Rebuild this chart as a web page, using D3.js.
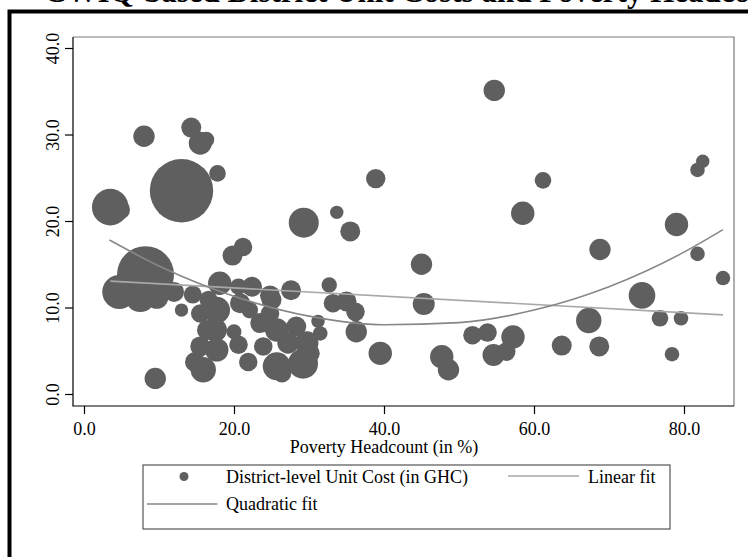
<!DOCTYPE html>
<html>
<head>
<meta charset="utf-8">
<script src="https://cdn.jsdelivr.net/npm/d3@7"></script>
<style>
  body { margin: 0; background: #fff; }
  svg { display: block; font-family: "Liberation Serif", "Times New Roman", serif; }
</style>
</head>
<body>
<svg id="chart"></svg>
<script>
// district points: poverty headcount (%), unit cost (GHC), weight
var poverty = [
  8.0, 14.3, 15.5, 16.3, 17.8, 13.0, 3.5, 4.8, 38.9, 29.3,
  33.7, 35.5, 8.2, 4.7, 7.5, 9.7, 12.0, 14.5, 16.6, 13.0,
  15.5, 17.7, 18.1, 19.8, 21.2, 20.6, 22.4, 16.4, 17.5, 20.0,
  20.6, 15.5, 17.7, 14.8, 15.9, 21.9, 9.5, 25.0, 36.2, 36.3,
  39.5, 32.7, 33.2, 35.0, 27.6, 45.0, 45.3, 25.7, 26.4, 29.2,
  30.1, 24.8, 20.8, 23.5, 25.7, 28.3, 31.2, 31.5, 29.7, 27.2,
  24.8, 22.1, 23.9, 54.7, 61.2, 58.5, 82.5, 81.8, 79.0, 68.8,
  81.8, 85.2, 74.4, 67.3, 76.8, 79.6, 78.4, 63.7, 68.7, 51.8,
  53.8, 57.2, 56.3, 54.6, 47.7, 48.6
];
var unitCost = [
  29.8, 30.8, 29.0, 29.4, 25.5, 23.5, 21.6, 21.3, 24.9, 19.8,
  21.0, 18.8, 13.8, 11.8, 11.2, 11.2, 11.8, 11.5, 10.9, 9.7,
  9.3, 9.7, 12.8, 16.0, 17.0, 12.4, 12.4, 7.4, 7.4, 7.2,
  5.7, 5.5, 5.1, 3.7, 2.8, 3.7, 1.8, 10.9, 9.5, 7.2,
  4.7, 12.6, 10.5, 10.7, 12.0, 15.0, 10.4, 3.2, 2.4, 3.5,
  4.7, 11.4, 10.5, 8.2, 7.4, 7.8, 8.4, 7.0, 5.9, 5.9,
  9.3, 9.7, 5.5, 35.1, 24.7, 20.9, 26.9, 25.9, 19.6, 16.7,
  16.2, 13.4, 11.4, 8.5, 8.75, 8.75, 4.6, 5.6, 5.5, 6.8,
  7.1, 6.6, 4.9, 4.5, 4.3, 2.8
];
var weight = [
  114, 100, 132, 64, 69, 1005, 335, 100, 94, 225,
  45, 100, 812, 289, 225, 137, 100, 81, 81, 45,
  86, 177, 137, 100, 86, 69, 100, 100, 137, 56,
  86, 100, 137, 100, 161, 86, 114, 100, 86, 114,
  137, 59, 86, 100, 100, 114, 121, 196, 86, 225,
  100, 100, 100, 100, 137, 100, 45, 53, 137, 114,
  86, 69, 86, 114, 69, 137, 45, 53, 137, 114,
  53, 53, 177, 161, 69, 53, 53, 100, 100, 86,
  86, 137, 86, 121, 137, 114
];

// fitted lines
var linearX = [3.5, 85.2];
var linearY = [13.05, 9.15];
var quadX = [3.4, 10, 20, 30, 40, 50, 60, 70, 80, 85.2];
var quadY = [17.8, 14.8, 11.3, 9.0, 8.0, 8.25, 9.7, 12.4, 16.4, 19.0];

var xTicks = [0, 20, 40, 60, 80];
var yTicks = [0, 10, 20, 30, 40];

var titleText = "CWIQ-based District Unit Costs and Poverty Headcount";
var xTitle = "Poverty Headcount (in %)";
var legendLabels = ["District-level Unit Cost (in GHC)", "Linear fit", "Quadratic fit"];

var width = 748, height = 557;
var box = {left: 73, right: 734, top: 37, bottom: 406};

var svg = d3.select('#chart')
  .attr('width', width)
  .attr('height', height);

svg.append('rect').attr('width', width).attr('height', height).attr('fill', '#fff');

// title, mostly cut off at the top edge
svg.append('text')
  .attr('x', 44)
  .attr('y', 2)
  .style('font-size', '31px')
  .style('font-weight', 'bold')
  .text(titleText);

// outer black frame (runs off right and bottom)
svg.append('rect')
  .attr('x', 9.5).attr('y', 11.5)
  .attr('width', width + 20).attr('height', height + 20)
  .attr('fill', 'none')
  .attr('stroke', '#000')
  .attr('stroke-width', 4);

var xScale = d3.scaleLinear().domain([0, 80]).range([84, 684]);
var yScale = d3.scaleLinear().domain([0, 40]).range([394, 48]);
var rScale = d3.scaleSqrt().domain([0, 1005]).range([0, 31.7]);

var data = poverty.map(function(p, i) {
  return {pov: p, cost: unitCost[i], w: weight[i]};
});

var plot = svg.append('g');

plot.selectAll('circle')
  .data(data)
  .enter()
  .append('circle')
    .attr('cx', d => xScale(d.pov))
    .attr('cy', d => yScale(d.cost))
    .attr('r', d => rScale(d.w))
    .attr('fill', '#5f5f5f');

var line = d3.line()
  .x(d => xScale(d[0]))
  .y(d => yScale(d[1]));

plot.append('path')
  .datum(linearX.map((v, i) => [v, linearY[i]]))
  .attr('d', line)
  .attr('fill', 'none')
  .attr('stroke', '#a8a8a8')
  .attr('stroke-width', 1.6);

plot.append('path')
  .datum(quadX.map((v, i) => [v, quadY[i]]))
  .attr('d', line.curve(d3.curveMonotoneX))
  .attr('fill', 'none')
  .attr('stroke', '#878787')
  .attr('stroke-width', 1.6);

// plot region outline
svg.append('path')
  .attr('d', 'M' + box.left + ',' + box.top + 'H' + box.right + 'V' + box.bottom)
  .attr('fill', 'none')
  .attr('stroke', '#7a7a7a')
  .attr('stroke-width', 1.2);
svg.append('path')
  .attr('d', 'M' + box.left + ',' + box.top + 'V' + box.bottom + 'H' + box.right)
  .attr('fill', 'none')
  .attr('stroke', '#000')
  .attr('stroke-width', 1.2);

var xAxis = d3.axisBottom(xScale)
  .tickValues(xTicks)
  .tickFormat(d3.format('.1f'))
  .tickSize(8)
  .tickPadding(8);

var gx = svg.append('g')
  .attr('transform', 'translate(0,' + box.bottom + ')')
  .call(xAxis);
gx.select('.domain').remove();
gx.selectAll('line').attr('stroke', '#000').attr('stroke-width', 1.2);
gx.selectAll('text')
  .attr('fill', '#000')
  .style('font-size', '18px')
  .style('font-family', '"Liberation Serif", serif');

var yAxis = d3.axisLeft(yScale)
  .tickValues(yTicks)
  .tickFormat(d3.format('.1f'))
  .tickSize(8);

var gy = svg.append('g')
  .attr('transform', 'translate(' + box.left + ',0)')
  .call(yAxis);
gy.select('.domain').remove();
gy.selectAll('line').attr('stroke', '#000').attr('stroke-width', 1.2);
gy.selectAll('text')
  .attr('x', null)
  .attr('dy', null)
  .attr('fill', '#000')
  .attr('text-anchor', 'middle')
  .attr('transform', 'translate(-14,0) rotate(-90)')
  .style('font-size', '18px')
  .style('font-family', '"Liberation Serif", serif');

svg.append('text')
  .attr('x', (xScale(0) + xScale(80)) / 2)
  .attr('y', 453)
  .style('text-anchor', 'middle')
  .style('font-size', '18px')
  .text(xTitle);

// legend
var legend = svg.append('g');
legend.append('rect')
  .attr('x', 143).attr('y', 465)
  .attr('width', 527).attr('height', 64)
  .attr('fill', '#fff')
  .attr('stroke', '#555')
  .attr('stroke-width', 1.2);

legend.append('circle')
  .attr('cx', 184).attr('cy', 476.5).attr('r', 4.5)
  .attr('fill', '#5f5f5f');
legend.append('text')
  .attr('x', 226).attr('y', 482.5)
  .style('font-size', '18px')
  .text(legendLabels[0]);

legend.append('line')
  .attr('x1', 508).attr('x2', 579)
  .attr('y1', 476).attr('y2', 476)
  .attr('stroke', '#a8a8a8').attr('stroke-width', 1.6);
legend.append('text')
  .attr('x', 588).attr('y', 482.5)
  .style('font-size', '18px')
  .text(legendLabels[1]);

legend.append('line')
  .attr('x1', 147).attr('x2', 217.5)
  .attr('y1', 504).attr('y2', 504)
  .attr('stroke', '#878787').attr('stroke-width', 1.6);
legend.append('text')
  .attr('x', 226).attr('y', 510)
  .style('font-size', '18px')
  .text(legendLabels[2]);
</script>
</body>
</html>
